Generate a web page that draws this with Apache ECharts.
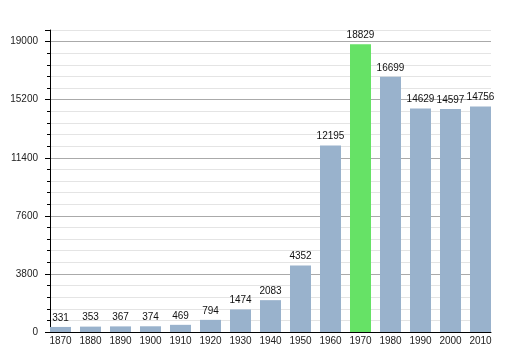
<!DOCTYPE html>
<html><head><meta charset="utf-8">
<script src="https://cdn.jsdelivr.net/npm/echarts@6/dist/echarts.min.js"></script>
<style>html,body{margin:0;padding:0;background:#fff}#c{width:520px;height:350px}</style>
</head><body><div id="c"></div>
<script>
var years = [1870,1880,1890,1900,1910,1920,1930,1940,1950,1960,1970,1980,1990,2000,2010];
var values = [331,353,367,374,469,794,1474,2083,4352,12195,18829,16699,14629,14597,14756];
var highlightYear = 1970;
var yTicks = [0,3800,7600,11400,15200,19000];
var font = "'Liberation Sans', Arial, sans-serif";
var chart = echarts.init(document.getElementById('c'), null, {renderer:'canvas'});
chart.setOption({
  animation:false,
  grid:{left:50,right:29,top:30,bottom:18,containLabel:false},
  xAxis:{type:'value',min:1866.5,max:2013.5,
    axisLine:{show:true,onZero:false,lineStyle:{color:'#000',width:1}},
    axisTick:{show:false},splitLine:{show:false},
    axisLabel:{customValues:years,color:'#222',fontSize:10,fontFamily:font,margin:4,
      formatter:function(v){return String(v);}}
  },
  yAxis:{type:'value',min:0,max:19760,interval:3800,
    axisLine:{show:true,lineStyle:{color:'#000',width:1}},
    axisTick:{show:true,length:5,inside:false,lineStyle:{color:'#000'}},
    minorTick:{show:true,splitNumber:5,length:3,lineStyle:{color:'#000'}},
    axisLabel:{color:'#222',fontSize:10,fontFamily:font,margin:12,showMaxLabel:false,
      formatter:function(v){return yTicks.indexOf(v)>=0?String(v):'';}},
    splitLine:{show:true,lineStyle:{color:['#aaaaaa','#aaaaaa','#aaaaaa','#aaaaaa','#aaaaaa','#aaaaaa','#e4e4e4'],width:1}},
    minorSplitLine:{show:true,lineStyle:{color:'#e4e4e4',width:1}}
  },
  series:[{type:'bar',barWidth:21,
    data:years.map(function(y,i){return [y,values[i]];}),
    itemStyle:{color:function(p){return p.data[0]===highlightYear?'#66e266':'#99b2cc';}},
    label:{show:true,position:'top',distance:4,color:'#111',fontSize:10,fontFamily:font,
      formatter:function(p){return String(p.data[1]);}}
  }]
});
</script></body></html>
